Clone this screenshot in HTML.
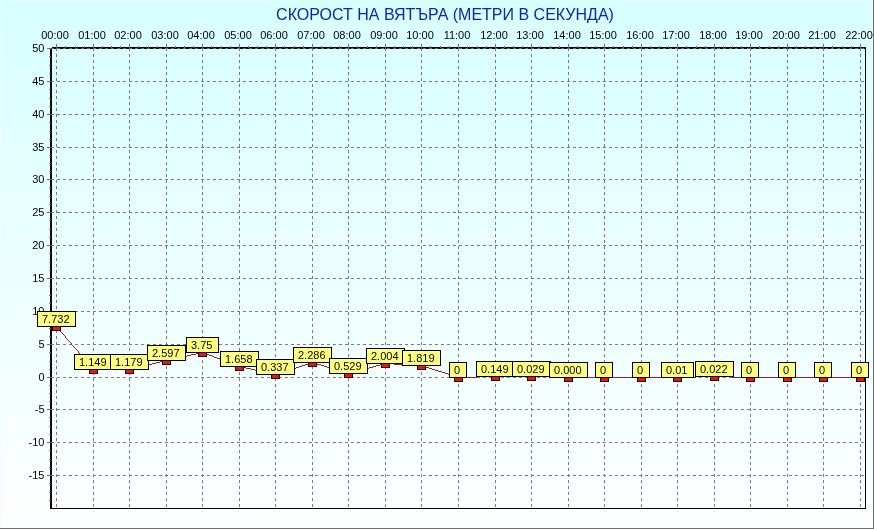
<!DOCTYPE html><html><head><meta charset="utf-8"><style>html,body{margin:0;padding:0;background:#fff}svg{display:block;will-change:transform}text{font-family:"Liberation Sans",Arial,sans-serif}</style></head><body>
<svg width="874" height="529" viewBox="0 0 874 529">
<defs><linearGradient id="bg" x1="0" y1="0" x2="0" y2="1"><stop offset="0" stop-color="#D7FFFF"/><stop offset="1" stop-color="#FFFFFF"/></linearGradient></defs>
<rect x="0" y="0" width="874" height="529" fill="url(#bg)"/>
<g shape-rendering="crispEdges">
<rect x="0" y="0" width="874" height="1" fill="#EEFFFF"/>
<rect x="0" y="0" width="1" height="529" fill="#EEFFFF"/>
<rect x="872" y="0" width="1" height="529" fill="#F8FFFF"/>
<rect x="873" y="0" width="1" height="529" fill="#687272"/>
<rect x="0" y="528" width="874" height="1" fill="#707070"/>
</g>
<text x="445" y="20" font-size="16" fill="#1226A8" text-anchor="middle">СКОРОСТ НА ВЯТЪРА (МЕТРИ В СЕКУНДА)</text>
<g shape-rendering="crispEdges" fill="#000">
<rect x="52" y="47" width="814" height="2"/>
<rect x="50" y="508" width="816" height="1"/>
<rect x="865" y="47" width="1" height="462"/>
<rect x="50" y="49" width="2" height="460"/>
</g>
<g shape-rendering="crispEdges" stroke="#000" opacity="0.5" stroke-width="1" fill="none">
<line x1="51" y1="475.5" x2="865" y2="475.5" stroke-dasharray="3 3"/>
<line x1="51" y1="442.5" x2="865" y2="442.5" stroke-dasharray="3 3"/>
<line x1="51" y1="409.5" x2="865" y2="409.5" stroke-dasharray="3 3"/>
<line x1="51" y1="377.5" x2="865" y2="377.5" stroke-dasharray="3 3"/>
<line x1="51" y1="344.5" x2="865" y2="344.5" stroke-dasharray="3 3"/>
<line x1="51" y1="311.5" x2="865" y2="311.5" stroke-dasharray="3 3"/>
<line x1="51" y1="278.5" x2="865" y2="278.5" stroke-dasharray="3 3"/>
<line x1="51" y1="245.5" x2="865" y2="245.5" stroke-dasharray="3 3"/>
<line x1="51" y1="212.5" x2="865" y2="212.5" stroke-dasharray="3 3"/>
<line x1="51" y1="179.5" x2="865" y2="179.5" stroke-dasharray="3 3"/>
<line x1="51" y1="147.5" x2="865" y2="147.5" stroke-dasharray="3 3"/>
<line x1="51" y1="114.5" x2="865" y2="114.5" stroke-dasharray="3 3"/>
<line x1="51" y1="81.5" x2="865" y2="81.5" stroke-dasharray="3 3"/>
<line x1="56.5" y1="48" x2="56.5" y2="508" stroke-dasharray="3 3"/>
<line x1="93.5" y1="48" x2="93.5" y2="508" stroke-dasharray="3 3"/>
<line x1="129.5" y1="48" x2="129.5" y2="508" stroke-dasharray="3 3"/>
<line x1="166.5" y1="48" x2="166.5" y2="508" stroke-dasharray="3 3"/>
<line x1="202.5" y1="48" x2="202.5" y2="508" stroke-dasharray="3 3"/>
<line x1="239.5" y1="48" x2="239.5" y2="508" stroke-dasharray="3 3"/>
<line x1="275.5" y1="48" x2="275.5" y2="508" stroke-dasharray="3 3"/>
<line x1="312.5" y1="48" x2="312.5" y2="508" stroke-dasharray="3 3"/>
<line x1="348.5" y1="48" x2="348.5" y2="508" stroke-dasharray="3 3"/>
<line x1="385.5" y1="48" x2="385.5" y2="508" stroke-dasharray="3 3"/>
<line x1="421.5" y1="48" x2="421.5" y2="508" stroke-dasharray="3 3"/>
<line x1="458.5" y1="48" x2="458.5" y2="508" stroke-dasharray="3 3"/>
<line x1="495.5" y1="48" x2="495.5" y2="508" stroke-dasharray="3 3"/>
<line x1="531.5" y1="48" x2="531.5" y2="508" stroke-dasharray="3 3"/>
<line x1="568.5" y1="48" x2="568.5" y2="508" stroke-dasharray="3 3"/>
<line x1="604.5" y1="48" x2="604.5" y2="508" stroke-dasharray="3 3"/>
<line x1="641.5" y1="48" x2="641.5" y2="508" stroke-dasharray="3 3"/>
<line x1="677.5" y1="48" x2="677.5" y2="508" stroke-dasharray="3 3"/>
<line x1="714.5" y1="48" x2="714.5" y2="508" stroke-dasharray="3 3"/>
<line x1="750.5" y1="48" x2="750.5" y2="508" stroke-dasharray="3 3"/>
<line x1="787.5" y1="48" x2="787.5" y2="508" stroke-dasharray="3 3"/>
<line x1="823.5" y1="48" x2="823.5" y2="508" stroke-dasharray="3 3"/>
<line x1="860.5" y1="48" x2="860.5" y2="508" stroke-dasharray="3 3"/>
</g>
<line x1="51" y1="48.5" x2="865" y2="48.5" stroke-dasharray="3 3" stroke="#6A6E6E" shape-rendering="crispEdges"/>
<g shape-rendering="crispEdges" fill="#6A6E6E">
<rect x="47" y="475" width="5" height="1"/>
<rect x="47" y="442" width="5" height="1"/>
<rect x="47" y="409" width="5" height="1"/>
<rect x="47" y="377" width="5" height="1"/>
<rect x="47" y="344" width="5" height="1"/>
<rect x="47" y="311" width="5" height="1"/>
<rect x="47" y="278" width="5" height="1"/>
<rect x="47" y="245" width="5" height="1"/>
<rect x="47" y="212" width="5" height="1"/>
<rect x="47" y="179" width="5" height="1"/>
<rect x="47" y="147" width="5" height="1"/>
<rect x="47" y="114" width="5" height="1"/>
<rect x="47" y="81" width="5" height="1"/>
<rect x="47" y="48" width="5" height="1"/>
<rect x="49" y="500" width="2" height="1"/>
<rect x="49" y="492" width="2" height="1"/>
<rect x="49" y="483" width="2" height="1"/>
<rect x="49" y="467" width="2" height="1"/>
<rect x="49" y="459" width="2" height="1"/>
<rect x="49" y="450" width="2" height="1"/>
<rect x="49" y="434" width="2" height="1"/>
<rect x="49" y="426" width="2" height="1"/>
<rect x="49" y="417" width="2" height="1"/>
<rect x="49" y="401" width="2" height="1"/>
<rect x="49" y="393" width="2" height="1"/>
<rect x="49" y="385" width="2" height="1"/>
<rect x="49" y="369" width="2" height="1"/>
<rect x="49" y="361" width="2" height="1"/>
<rect x="49" y="352" width="2" height="1"/>
<rect x="49" y="336" width="2" height="1"/>
<rect x="49" y="328" width="2" height="1"/>
<rect x="49" y="319" width="2" height="1"/>
<rect x="49" y="303" width="2" height="1"/>
<rect x="49" y="295" width="2" height="1"/>
<rect x="49" y="286" width="2" height="1"/>
<rect x="49" y="270" width="2" height="1"/>
<rect x="49" y="262" width="2" height="1"/>
<rect x="49" y="253" width="2" height="1"/>
<rect x="49" y="237" width="2" height="1"/>
<rect x="49" y="229" width="2" height="1"/>
<rect x="49" y="220" width="2" height="1"/>
<rect x="49" y="204" width="2" height="1"/>
<rect x="49" y="196" width="2" height="1"/>
<rect x="49" y="187" width="2" height="1"/>
<rect x="49" y="171" width="2" height="1"/>
<rect x="49" y="163" width="2" height="1"/>
<rect x="49" y="155" width="2" height="1"/>
<rect x="49" y="139" width="2" height="1"/>
<rect x="49" y="131" width="2" height="1"/>
<rect x="49" y="122" width="2" height="1"/>
<rect x="49" y="106" width="2" height="1"/>
<rect x="49" y="98" width="2" height="1"/>
<rect x="49" y="89" width="2" height="1"/>
<rect x="49" y="73" width="2" height="1"/>
<rect x="49" y="65" width="2" height="1"/>
<rect x="49" y="56" width="2" height="1"/>
<rect x="56" y="44" width="1" height="5"/>
<rect x="93" y="44" width="1" height="5"/>
<rect x="129" y="44" width="1" height="5"/>
<rect x="166" y="44" width="1" height="5"/>
<rect x="202" y="44" width="1" height="5"/>
<rect x="239" y="44" width="1" height="5"/>
<rect x="275" y="44" width="1" height="5"/>
<rect x="312" y="44" width="1" height="5"/>
<rect x="348" y="44" width="1" height="5"/>
<rect x="385" y="44" width="1" height="5"/>
<rect x="421" y="44" width="1" height="5"/>
<rect x="458" y="44" width="1" height="5"/>
<rect x="495" y="44" width="1" height="5"/>
<rect x="531" y="44" width="1" height="5"/>
<rect x="568" y="44" width="1" height="5"/>
<rect x="604" y="44" width="1" height="5"/>
<rect x="641" y="44" width="1" height="5"/>
<rect x="677" y="44" width="1" height="5"/>
<rect x="714" y="44" width="1" height="5"/>
<rect x="750" y="44" width="1" height="5"/>
<rect x="787" y="44" width="1" height="5"/>
<rect x="823" y="44" width="1" height="5"/>
<rect x="860" y="44" width="1" height="5"/>
<rect x="65" y="46" width="1" height="2"/>
<rect x="75" y="46" width="1" height="2"/>
<rect x="84" y="46" width="1" height="2"/>
<rect x="102" y="46" width="1" height="2"/>
<rect x="111" y="46" width="1" height="2"/>
<rect x="120" y="46" width="1" height="2"/>
<rect x="138" y="46" width="1" height="2"/>
<rect x="148" y="46" width="1" height="2"/>
<rect x="157" y="46" width="1" height="2"/>
<rect x="175" y="46" width="1" height="2"/>
<rect x="184" y="46" width="1" height="2"/>
<rect x="193" y="46" width="1" height="2"/>
<rect x="211" y="46" width="1" height="2"/>
<rect x="221" y="46" width="1" height="2"/>
<rect x="230" y="46" width="1" height="2"/>
<rect x="248" y="46" width="1" height="2"/>
<rect x="257" y="46" width="1" height="2"/>
<rect x="266" y="46" width="1" height="2"/>
<rect x="284" y="46" width="1" height="2"/>
<rect x="294" y="46" width="1" height="2"/>
<rect x="303" y="46" width="1" height="2"/>
<rect x="321" y="46" width="1" height="2"/>
<rect x="330" y="46" width="1" height="2"/>
<rect x="339" y="46" width="1" height="2"/>
<rect x="357" y="46" width="1" height="2"/>
<rect x="367" y="46" width="1" height="2"/>
<rect x="376" y="46" width="1" height="2"/>
<rect x="394" y="46" width="1" height="2"/>
<rect x="403" y="46" width="1" height="2"/>
<rect x="412" y="46" width="1" height="2"/>
<rect x="430" y="46" width="1" height="2"/>
<rect x="440" y="46" width="1" height="2"/>
<rect x="449" y="46" width="1" height="2"/>
<rect x="467" y="46" width="1" height="2"/>
<rect x="477" y="46" width="1" height="2"/>
<rect x="486" y="46" width="1" height="2"/>
<rect x="504" y="46" width="1" height="2"/>
<rect x="513" y="46" width="1" height="2"/>
<rect x="522" y="46" width="1" height="2"/>
<rect x="540" y="46" width="1" height="2"/>
<rect x="550" y="46" width="1" height="2"/>
<rect x="559" y="46" width="1" height="2"/>
<rect x="577" y="46" width="1" height="2"/>
<rect x="586" y="46" width="1" height="2"/>
<rect x="595" y="46" width="1" height="2"/>
<rect x="613" y="46" width="1" height="2"/>
<rect x="623" y="46" width="1" height="2"/>
<rect x="632" y="46" width="1" height="2"/>
<rect x="650" y="46" width="1" height="2"/>
<rect x="659" y="46" width="1" height="2"/>
<rect x="668" y="46" width="1" height="2"/>
<rect x="686" y="46" width="1" height="2"/>
<rect x="696" y="46" width="1" height="2"/>
<rect x="705" y="46" width="1" height="2"/>
<rect x="723" y="46" width="1" height="2"/>
<rect x="732" y="46" width="1" height="2"/>
<rect x="741" y="46" width="1" height="2"/>
<rect x="759" y="46" width="1" height="2"/>
<rect x="769" y="46" width="1" height="2"/>
<rect x="778" y="46" width="1" height="2"/>
<rect x="796" y="46" width="1" height="2"/>
<rect x="805" y="46" width="1" height="2"/>
<rect x="814" y="46" width="1" height="2"/>
<rect x="832" y="46" width="1" height="2"/>
<rect x="842" y="46" width="1" height="2"/>
<rect x="851" y="46" width="1" height="2"/>
</g>
<g font-size="11" fill="#000">
<text x="44.5" y="479" text-anchor="end">-15</text>
<text x="44.5" y="446" text-anchor="end">-10</text>
<text x="44.5" y="413" text-anchor="end">-5</text>
<text x="44.5" y="381" text-anchor="end">0</text>
<text x="44.5" y="348" text-anchor="end">5</text>
<text x="44.5" y="315" text-anchor="end">10</text>
<text x="44.5" y="282" text-anchor="end">15</text>
<text x="44.5" y="249" text-anchor="end">20</text>
<text x="44.5" y="216" text-anchor="end">25</text>
<text x="44.5" y="183" text-anchor="end">30</text>
<text x="44.5" y="151" text-anchor="end">35</text>
<text x="44.5" y="118" text-anchor="end">40</text>
<text x="44.5" y="85" text-anchor="end">45</text>
<text x="44.5" y="52" text-anchor="end">50</text>
<text x="55" y="39" text-anchor="middle">00:00</text>
<text x="92" y="39" text-anchor="middle">01:00</text>
<text x="128" y="39" text-anchor="middle">02:00</text>
<text x="165" y="39" text-anchor="middle">03:00</text>
<text x="201" y="39" text-anchor="middle">04:00</text>
<text x="238" y="39" text-anchor="middle">05:00</text>
<text x="274" y="39" text-anchor="middle">06:00</text>
<text x="311" y="39" text-anchor="middle">07:00</text>
<text x="347" y="39" text-anchor="middle">08:00</text>
<text x="384" y="39" text-anchor="middle">09:00</text>
<text x="420" y="39" text-anchor="middle">10:00</text>
<text x="457" y="39" text-anchor="middle">11:00</text>
<text x="494" y="39" text-anchor="middle">12:00</text>
<text x="530" y="39" text-anchor="middle">13:00</text>
<text x="567" y="39" text-anchor="middle">14:00</text>
<text x="603" y="39" text-anchor="middle">15:00</text>
<text x="640" y="39" text-anchor="middle">16:00</text>
<text x="676" y="39" text-anchor="middle">17:00</text>
<text x="713" y="39" text-anchor="middle">18:00</text>
<text x="749" y="39" text-anchor="middle">19:00</text>
<text x="786" y="39" text-anchor="middle">20:00</text>
<text x="822" y="39" text-anchor="middle">21:00</text>
<text x="859" y="39" text-anchor="middle">22:00</text>
</g>
<g fill="#9C2020" shape-rendering="crispEdges">
<rect x="56" y="326" width="1" height="1"/>
<rect x="57" y="327" width="1" height="1"/>
<rect x="58" y="328" width="1" height="1"/>
<rect x="59" y="329" width="1" height="1"/>
<rect x="59" y="330" width="1" height="1"/>
<rect x="60" y="331" width="1" height="1"/>
<rect x="61" y="332" width="1" height="1"/>
<rect x="62" y="333" width="1" height="1"/>
<rect x="63" y="334" width="1" height="1"/>
<rect x="64" y="335" width="1" height="1"/>
<rect x="65" y="336" width="1" height="1"/>
<rect x="65" y="337" width="1" height="1"/>
<rect x="66" y="338" width="1" height="1"/>
<rect x="67" y="339" width="1" height="1"/>
<rect x="68" y="340" width="1" height="1"/>
<rect x="69" y="341" width="1" height="1"/>
<rect x="70" y="342" width="1" height="1"/>
<rect x="71" y="343" width="1" height="1"/>
<rect x="71" y="344" width="1" height="1"/>
<rect x="72" y="345" width="1" height="1"/>
<rect x="73" y="346" width="1" height="1"/>
<rect x="74" y="347" width="1" height="1"/>
<rect x="75" y="348" width="1" height="1"/>
<rect x="76" y="349" width="1" height="1"/>
<rect x="77" y="350" width="1" height="1"/>
<rect x="78" y="351" width="1" height="1"/>
<rect x="78" y="352" width="1" height="1"/>
<rect x="200" y="352" width="4" height="1"/>
<rect x="79" y="353" width="1" height="1"/>
<rect x="196" y="353" width="4" height="1"/>
<rect x="204" y="353" width="2" height="1"/>
<rect x="80" y="354" width="1" height="1"/>
<rect x="191" y="354" width="5" height="1"/>
<rect x="206" y="354" width="3" height="1"/>
<rect x="81" y="355" width="1" height="1"/>
<rect x="187" y="355" width="4" height="1"/>
<rect x="209" y="355" width="3" height="1"/>
<rect x="82" y="356" width="1" height="1"/>
<rect x="182" y="356" width="5" height="1"/>
<rect x="212" y="356" width="2" height="1"/>
<rect x="83" y="357" width="1" height="1"/>
<rect x="178" y="357" width="4" height="1"/>
<rect x="214" y="357" width="3" height="1"/>
<rect x="84" y="358" width="1" height="1"/>
<rect x="173" y="358" width="5" height="1"/>
<rect x="217" y="358" width="3" height="1"/>
<rect x="84" y="359" width="1" height="1"/>
<rect x="169" y="359" width="4" height="1"/>
<rect x="220" y="359" width="2" height="1"/>
<rect x="85" y="360" width="1" height="1"/>
<rect x="164" y="360" width="5" height="1"/>
<rect x="222" y="360" width="3" height="1"/>
<rect x="86" y="361" width="1" height="1"/>
<rect x="160" y="361" width="4" height="1"/>
<rect x="225" y="361" width="3" height="1"/>
<rect x="87" y="362" width="1" height="1"/>
<rect x="156" y="362" width="4" height="1"/>
<rect x="228" y="362" width="2" height="1"/>
<rect x="311" y="362" width="3" height="1"/>
<rect x="88" y="363" width="1" height="1"/>
<rect x="152" y="363" width="4" height="1"/>
<rect x="230" y="363" width="3" height="1"/>
<rect x="308" y="363" width="3" height="1"/>
<rect x="314" y="363" width="3" height="1"/>
<rect x="384" y="363" width="10" height="1"/>
<rect x="89" y="364" width="1" height="1"/>
<rect x="148" y="364" width="4" height="1"/>
<rect x="233" y="364" width="3" height="1"/>
<rect x="305" y="364" width="3" height="1"/>
<rect x="317" y="364" width="4" height="1"/>
<rect x="380" y="364" width="4" height="1"/>
<rect x="394" y="364" width="18" height="1"/>
<rect x="90" y="365" width="1" height="1"/>
<rect x="144" y="365" width="4" height="1"/>
<rect x="236" y="365" width="2" height="1"/>
<rect x="302" y="365" width="3" height="1"/>
<rect x="321" y="365" width="3" height="1"/>
<rect x="376" y="365" width="4" height="1"/>
<rect x="412" y="365" width="11" height="1"/>
<rect x="90" y="366" width="1" height="1"/>
<rect x="140" y="366" width="4" height="1"/>
<rect x="238" y="366" width="4" height="1"/>
<rect x="299" y="366" width="3" height="1"/>
<rect x="324" y="366" width="3" height="1"/>
<rect x="373" y="366" width="3" height="1"/>
<rect x="423" y="366" width="3" height="1"/>
<rect x="91" y="367" width="1" height="1"/>
<rect x="136" y="367" width="4" height="1"/>
<rect x="242" y="367" width="4" height="1"/>
<rect x="296" y="367" width="3" height="1"/>
<rect x="327" y="367" width="3" height="1"/>
<rect x="369" y="367" width="4" height="1"/>
<rect x="426" y="367" width="3" height="1"/>
<rect x="92" y="368" width="1" height="1"/>
<rect x="132" y="368" width="4" height="1"/>
<rect x="246" y="368" width="5" height="1"/>
<rect x="292" y="368" width="4" height="1"/>
<rect x="330" y="368" width="4" height="1"/>
<rect x="365" y="368" width="4" height="1"/>
<rect x="429" y="368" width="3" height="1"/>
<rect x="93" y="369" width="39" height="1"/>
<rect x="251" y="369" width="4" height="1"/>
<rect x="289" y="369" width="3" height="1"/>
<rect x="334" y="369" width="3" height="1"/>
<rect x="361" y="369" width="4" height="1"/>
<rect x="432" y="369" width="3" height="1"/>
<rect x="255" y="370" width="5" height="1"/>
<rect x="286" y="370" width="3" height="1"/>
<rect x="337" y="370" width="3" height="1"/>
<rect x="358" y="370" width="3" height="1"/>
<rect x="435" y="370" width="3" height="1"/>
<rect x="260" y="371" width="4" height="1"/>
<rect x="283" y="371" width="3" height="1"/>
<rect x="340" y="371" width="4" height="1"/>
<rect x="354" y="371" width="4" height="1"/>
<rect x="438" y="371" width="4" height="1"/>
<rect x="264" y="372" width="5" height="1"/>
<rect x="280" y="372" width="3" height="1"/>
<rect x="344" y="372" width="3" height="1"/>
<rect x="350" y="372" width="4" height="1"/>
<rect x="442" y="372" width="3" height="1"/>
<rect x="269" y="373" width="4" height="1"/>
<rect x="277" y="373" width="3" height="1"/>
<rect x="347" y="373" width="3" height="1"/>
<rect x="445" y="373" width="3" height="1"/>
<rect x="273" y="374" width="4" height="1"/>
<rect x="448" y="374" width="3" height="1"/>
<rect x="451" y="375" width="3" height="1"/>
<rect x="454" y="376" width="3" height="1"/>
<rect x="477" y="376" width="73" height="1"/>
<rect x="696" y="376" width="36" height="1"/>
<rect x="457" y="377" width="20" height="1"/>
<rect x="550" y="377" width="146" height="1"/>
<rect x="732" y="377" width="129" height="1"/>
</g>
<g shape-rendering="crispEdges">
<rect x="52" y="326" width="9" height="5" fill="#200000"/>
<rect x="53" y="327" width="7" height="3" fill="#F01010"/>
<rect x="89" y="369" width="9" height="5" fill="#200000"/>
<rect x="90" y="370" width="7" height="3" fill="#F01010"/>
<rect x="125" y="369" width="9" height="5" fill="#200000"/>
<rect x="126" y="370" width="7" height="3" fill="#F01010"/>
<rect x="162" y="360" width="9" height="5" fill="#200000"/>
<rect x="163" y="361" width="7" height="3" fill="#F01010"/>
<rect x="198" y="352" width="9" height="5" fill="#200000"/>
<rect x="199" y="353" width="7" height="3" fill="#F01010"/>
<rect x="235" y="366" width="9" height="5" fill="#200000"/>
<rect x="236" y="367" width="7" height="3" fill="#F01010"/>
<rect x="271" y="374" width="9" height="5" fill="#200000"/>
<rect x="272" y="375" width="7" height="3" fill="#F01010"/>
<rect x="308" y="362" width="9" height="5" fill="#200000"/>
<rect x="309" y="363" width="7" height="3" fill="#F01010"/>
<rect x="344" y="373" width="9" height="5" fill="#200000"/>
<rect x="345" y="374" width="7" height="3" fill="#F01010"/>
<rect x="381" y="363" width="9" height="5" fill="#200000"/>
<rect x="382" y="364" width="7" height="3" fill="#F01010"/>
<rect x="417" y="365" width="9" height="5" fill="#200000"/>
<rect x="418" y="366" width="7" height="3" fill="#F01010"/>
<rect x="454" y="377" width="9" height="5" fill="#200000"/>
<rect x="455" y="378" width="7" height="3" fill="#F01010"/>
<rect x="491" y="376" width="9" height="5" fill="#200000"/>
<rect x="492" y="377" width="7" height="3" fill="#F01010"/>
<rect x="527" y="376" width="9" height="5" fill="#200000"/>
<rect x="528" y="377" width="7" height="3" fill="#F01010"/>
<rect x="564" y="377" width="9" height="5" fill="#200000"/>
<rect x="565" y="378" width="7" height="3" fill="#F01010"/>
<rect x="600" y="377" width="9" height="5" fill="#200000"/>
<rect x="601" y="378" width="7" height="3" fill="#F01010"/>
<rect x="637" y="377" width="9" height="5" fill="#200000"/>
<rect x="638" y="378" width="7" height="3" fill="#F01010"/>
<rect x="673" y="377" width="9" height="5" fill="#200000"/>
<rect x="674" y="378" width="7" height="3" fill="#F01010"/>
<rect x="710" y="376" width="9" height="5" fill="#200000"/>
<rect x="711" y="377" width="7" height="3" fill="#F01010"/>
<rect x="746" y="377" width="9" height="5" fill="#200000"/>
<rect x="747" y="378" width="7" height="3" fill="#F01010"/>
<rect x="783" y="377" width="9" height="5" fill="#200000"/>
<rect x="784" y="378" width="7" height="3" fill="#F01010"/>
<rect x="819" y="377" width="9" height="5" fill="#200000"/>
<rect x="820" y="378" width="7" height="3" fill="#F01010"/>
<rect x="856" y="377" width="9" height="5" fill="#200000"/>
<rect x="857" y="378" width="7" height="3" fill="#F01010"/>
</g>
<g font-size="11">
<rect x="37.5" y="311.5" width="38" height="15" fill="#FFFF80" stroke="#000" shape-rendering="crispEdges"/>
<text x="42" y="323" fill="#000">7.732</text>
<rect x="74.5" y="354.5" width="38" height="15" fill="#FFFF80" stroke="#000" shape-rendering="crispEdges"/>
<text x="79" y="366" fill="#000">1.149</text>
<rect x="110.5" y="354.5" width="38" height="15" fill="#FFFF80" stroke="#000" shape-rendering="crispEdges"/>
<text x="115" y="366" fill="#000">1.179</text>
<rect x="147.5" y="345.5" width="38" height="15" fill="#FFFF80" stroke="#000" shape-rendering="crispEdges"/>
<text x="152" y="357" fill="#000">2.597</text>
<rect x="186.5" y="337.5" width="32" height="15" fill="#FFFF80" stroke="#000" shape-rendering="crispEdges"/>
<text x="191" y="349" fill="#000">3.75</text>
<rect x="220.5" y="351.5" width="38" height="15" fill="#FFFF80" stroke="#000" shape-rendering="crispEdges"/>
<text x="225" y="363" fill="#000">1.658</text>
<rect x="256.5" y="359.5" width="38" height="15" fill="#FFFF80" stroke="#000" shape-rendering="crispEdges"/>
<text x="261" y="371" fill="#000">0.337</text>
<rect x="293.5" y="347.5" width="38" height="15" fill="#FFFF80" stroke="#000" shape-rendering="crispEdges"/>
<text x="298" y="359" fill="#000">2.286</text>
<rect x="329.5" y="358.5" width="38" height="15" fill="#FFFF80" stroke="#000" shape-rendering="crispEdges"/>
<text x="334" y="370" fill="#000">0.529</text>
<rect x="366.5" y="348.5" width="38" height="15" fill="#FFFF80" stroke="#000" shape-rendering="crispEdges"/>
<text x="371" y="360" fill="#000">2.004</text>
<rect x="402.5" y="350.5" width="38" height="15" fill="#FFFF80" stroke="#000" shape-rendering="crispEdges"/>
<text x="407" y="362" fill="#000">1.819</text>
<rect x="449.5" y="362.5" width="17" height="15" fill="#FFFF80" stroke="#000" shape-rendering="crispEdges"/>
<text x="454" y="374" fill="#000">0</text>
<rect x="476.5" y="361.5" width="38" height="15" fill="#FFFF80" stroke="#000" shape-rendering="crispEdges"/>
<text x="481" y="373" fill="#000">0.149</text>
<rect x="512.5" y="361.5" width="38" height="15" fill="#FFFF80" stroke="#000" shape-rendering="crispEdges"/>
<text x="517" y="373" fill="#000">0.029</text>
<rect x="549.5" y="362.5" width="38" height="15" fill="#FFFF80" stroke="#000" shape-rendering="crispEdges"/>
<text x="554" y="374" fill="#000">0.000</text>
<rect x="595.5" y="362.5" width="17" height="15" fill="#FFFF80" stroke="#000" shape-rendering="crispEdges"/>
<text x="600" y="374" fill="#000">0</text>
<rect x="632.5" y="362.5" width="17" height="15" fill="#FFFF80" stroke="#000" shape-rendering="crispEdges"/>
<text x="637" y="374" fill="#000">0</text>
<rect x="661.5" y="362.5" width="32" height="15" fill="#FFFF80" stroke="#000" shape-rendering="crispEdges"/>
<text x="666" y="374" fill="#000">0.01</text>
<rect x="695.5" y="361.5" width="38" height="15" fill="#FFFF80" stroke="#000" shape-rendering="crispEdges"/>
<text x="700" y="373" fill="#000">0.022</text>
<rect x="741.5" y="362.5" width="17" height="15" fill="#FFFF80" stroke="#000" shape-rendering="crispEdges"/>
<text x="746" y="374" fill="#000">0</text>
<rect x="778.5" y="362.5" width="17" height="15" fill="#FFFF80" stroke="#000" shape-rendering="crispEdges"/>
<text x="783" y="374" fill="#000">0</text>
<rect x="814.5" y="362.5" width="17" height="15" fill="#FFFF80" stroke="#000" shape-rendering="crispEdges"/>
<text x="819" y="374" fill="#000">0</text>
<rect x="851.5" y="362.5" width="17" height="15" fill="#FFFF80" stroke="#000" shape-rendering="crispEdges"/>
<text x="856" y="374" fill="#000">0</text>
</g>
</svg></body></html>
